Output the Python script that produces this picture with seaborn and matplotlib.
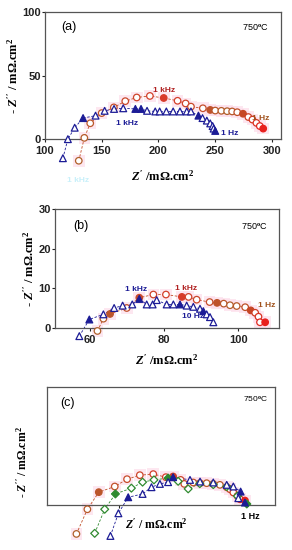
import pandas as pd
import numpy as np
import seaborn as sns
import matplotlib.pyplot as plt
from matplotlib.colors import LinearSegmentedColormap, to_hex

# ---- panel (a) data ----
a_tri_x = [115.8, 120.2, 126.2, 133.6, 144.6, 152.6, 160.9, 169.0, 179.7, 184.7, 190.0, 197.2,
           201.1, 207.0, 213.0, 219.0, 225.0, 228.7, 235.3, 238.9, 242.7, 245.7, 247.8, 248.7, 250.1]
a_tri_y = [-15.0, 0.0, 9.0, 16.6, 18.5, 22.3, 23.8, 24.3, 23.8, 23.8, 22.3, 21.8,
           21.8, 21.8, 21.8, 21.8, 21.8, 21.8, 18.5, 16.6, 14.6, 12.4, 10.3, 8.3, 6.5]
a_tri_filled = [3, 8, 9, 18, 24]

a_cir_x = [129.8, 134.7, 139.9, 150.0, 160.7, 170.8, 180.9, 192.5, 204.7, 216.9, 224.0, 228.7,
           239.2, 245.7, 250.1, 255.5, 260.6, 265.0, 269.5, 274.6, 279.3, 282.9, 286.4, 289.4, 292.4]
a_cir_y = [-17.0, 1.0, 12.5, 20.5, 25.0, 29.9, 32.8, 34.0, 32.4, 30.2, 28.1, 25.6,
           24.3, 23.0, 22.5, 22.3, 22.0, 21.8, 21.2, 20.0, 17.4, 15.4, 12.8, 10.3, 8.3]
a_cir_filled = [8, 13, 19, 24]

# ---- panel (b) data ----
b_tri_x = [57.1, 59.8, 63.6, 66.5, 68.8, 71.4, 73.3, 75.3, 76.9, 78.0, 80.7, 82.5, 84.3,
           86.1, 87.9, 89.7, 90.6, 91.5, 92.4, 93.3]
b_tri_y = [-2.1, 2.1, 3.4, 5.0, 5.6, 5.9, 7.3, 5.9, 5.9, 7.0, 5.9, 5.9, 5.9,
           5.6, 5.3, 4.8, 4.2, 3.4, 2.7, 1.4]
b_tri_filled = [1, 6, 12, 16]

b_cir_x = [62.0, 63.6, 65.4, 69.9, 73.3, 77.1, 80.5, 84.8, 86.6, 88.8, 92.3, 94.3, 96.1,
           97.8, 99.6, 101.9, 103.4, 104.6, 105.5, 105.9, 107.3]
b_cir_y = [-0.8, 2.3, 3.5, 5.0, 7.6, 8.4, 8.4, 7.8, 7.8, 7.1, 6.5, 6.3, 6.1,
           5.7, 5.5, 5.2, 4.4, 3.8, 2.8, 1.4, 1.4]
b_cir_filled = [2, 4, 7, 11, 16, 20]

# ---- panel (c) data (arbitrary units, no scale shown) ----
c_cir_x = [12.9, 17.7, 22.7, 29.7, 35.1, 40.7, 46.6, 52.1, 55.3, 58.6, 60.2, 64.1, 67.1,
           70.0, 72.9, 75.8, 78.8, 80.2, 81.7, 83.5, 84.6, 86.8]
c_cir_y = [-24.6, -3.7, 10.8, 15.6, 21.8, 25.2, 26.1, 23.5, 24.1, 21.2, 17.8, 19.0, 18.4,
           18.4, 17.8, 17.0, 15.0, 13.3, 10.5, 7.6, 4.8, 3.7]
c_cir_filled = [2, 8, 21]

c_dia_x = [20.9, 25.3, 30.0, 37.0, 41.9, 46.9, 53.1, 57.5, 61.9, 67.0, 72.9, 78.8, 83.5, 87.6]
c_dia_y = [-24.1, -3.7, 9.3, 14.2, 19.3, 21.2, 22.7, 20.0, 13.6, 18.0, 17.2, 15.5, 7.5, 0.8]
c_dia_filled = [2, 6, 13]

c_tri_x = [27.8, 31.3, 35.6, 41.9, 45.8, 49.5, 53.1, 55.3, 62.7, 67.1, 72.9, 78.8, 81.7,
           84.9, 83.9, 86.8]
c_tri_y = [-26.3, -7.1, 6.5, 9.3, 15.0, 17.8, 19.3, 23.5, 21.2, 19.8, 19.0, 17.0, 15.6,
           11.3, 5.7, 2.0]
c_tri_filled = [2, 7, 13, 15]

BLUE = '#1c1c96'
GREEN = '#2f8a2f'
circ_cmap = LinearSegmentedColormap.from_list('brred', ['#b0602a', '#d83a2a', '#b0602a', '#e8201e'])

plt.rcParams['mathtext.fontset'] = 'custom'
plt.rcParams['mathtext.rm'] = 'Liberation Serif:bold'
plt.rcParams['mathtext.it'] = 'Liberation Serif:bold:italic'
plt.rcParams['mathtext.bf'] = 'Liberation Serif:bold'
plt.rcParams['font.family'] = ['Liberation Sans', 'DejaVu Sans']

fig = plt.figure(figsize=(2.92, 5.5), dpi=100)
ax_a = fig.add_axes([0.154, 0.747, 0.808, 0.231])
ax_b = fig.add_axes([0.188, 0.404, 0.767, 0.216])
ax_c = fig.add_axes([0.161, 0.082, 0.781, 0.2145])


def draw_series(ax, xs, ys, filled, marker, colors, ms, halo=False):
    df = pd.DataFrame({'x': xs, 'y': ys})
    if not isinstance(colors, list):
        colors = [colors] * len(xs)
    colors = [to_hex(c) for c in colors]
    sns.lineplot(data=df, x='x', y='y', ax=ax, sort=False, estimator=None,
                 color=colors[len(colors) // 2], lw=0.6, ls=(0, (3, 2)), clip_on=False, zorder=2)
    if halo:
        sns.scatterplot(data=df, x='x', y='y', ax=ax, marker='s', s=70, color='#fde0ec',
                        edgecolor='none', alpha=0.75, clip_on=False, zorder=1, legend=False)
    face = ['#ffffff'] * len(xs)
    for i in filled:
        face[i] = colors[i]
    sns.scatterplot(data=df, x='x', y='y', ax=ax, marker=marker, s=ms, facecolor=face,
                    edgecolor=colors, linewidth=0.9, clip_on=False, zorder=3, legend=False)


def circ_colors(n):
    return [circ_cmap(v) for v in np.linspace(0, 1, n)]


# ---- (a) ----
draw_series(ax_a, a_cir_x, a_cir_y, a_cir_filled, 'o', circ_colors(len(a_cir_x)), 22, halo=True)
draw_series(ax_a, a_tri_x, a_tri_y, a_tri_filled, '^', BLUE, 24)
ax_a.set_xlim(100, 308)
ax_a.set_ylim(0, 100)
ax_a.set_xticks([100, 150, 200, 250, 300])
ax_a.set_yticks([0, 50, 100])
ax_a.text(205, 35.5, '1 kHz', color='#b02020', fontsize=6, fontweight='bold', ha='center', va='bottom')
ax_a.text(172, 12, '1 kHz', color=BLUE, fontsize=6, fontweight='bold', ha='center', va='center')
ax_a.text(255, 4.5, '1 Hz', color=BLUE, fontsize=6, fontweight='bold', ha='left', va='center')
ax_a.text(290, 16.5, '1 Hz', color='#a0521c', fontsize=6, fontweight='bold', ha='center', va='center')
ax_a.text(0.07, 0.88, '(a)', transform=ax_a.transAxes, fontsize=9, ha='left', va='center')
ax_a.text(0.95, 0.88, '750$^{\\rm o}$C', transform=ax_a.transAxes, fontsize=6.5, ha='right', va='center')
ax_a.set_xlabel("$Z'$ /mΩ.cm$^2$", fontsize=9, family='Liberation Serif', fontweight='bold', labelpad=9)
ax_a.set_ylabel("- $Z''$ / mΩ.cm$^2$", fontsize=9, family='Liberation Serif', fontweight='bold', labelpad=1)
fig.text(78 / 292, 1 - 181 / 550, '1 kHz', color='#c8f0fa', fontsize=6, fontweight='bold', ha='center', va='center')

# ---- (b) ----
draw_series(ax_b, b_cir_x, b_cir_y, b_cir_filled, 'o', circ_colors(len(b_cir_x)), 22, halo=True)
draw_series(ax_b, b_tri_x, b_tri_y, b_tri_filled, '^', BLUE, 24)
ax_b.set_xlim(50.5, 111)
ax_b.set_ylim(0, 30)
ax_b.set_xticks([60, 80, 100])
ax_b.set_yticks([0, 10, 20, 30])
ax_b.text(72.4, 9.7, '1 kHz', color=BLUE, fontsize=6, fontweight='bold', ha='center', va='center')
ax_b.text(86, 9.8, '1 kHz', color='#b02020', fontsize=6, fontweight='bold', ha='center', va='center')
ax_b.text(87.7, 2.9, '10 Hz', color=BLUE, fontsize=6, fontweight='bold', ha='center', va='center')
ax_b.text(107.6, 5.6, '1 Hz', color='#a0521c', fontsize=6, fontweight='bold', ha='center', va='center')
ax_b.text(0.08, 0.86, '(b)', transform=ax_b.transAxes, fontsize=9, ha='left', va='center')
ax_b.text(0.95, 0.86, '750$^{\\rm o}$C', transform=ax_b.transAxes, fontsize=6.5, ha='right', va='center')
ax_b.set_xlabel("$Z'$ /mΩ.cm$^2$", fontsize=9, family='Liberation Serif', fontweight='bold', labelpad=6)
ax_b.set_ylabel("- $Z''$ / mΩ.cm$^2$", fontsize=9, family='Liberation Serif', fontweight='bold', labelpad=1)

# ---- (c) ----
draw_series(ax_c, c_cir_x, c_cir_y, c_cir_filled, 'o', circ_colors(len(c_cir_x)), 22, halo=True)
draw_series(ax_c, c_dia_x, c_dia_y, c_dia_filled, 'D', GREEN, 16)
draw_series(ax_c, c_tri_x, c_tri_y, c_tri_filled, '^', BLUE, 24)
ax_c.set_xlim(0, 100)
ax_c.set_ylim(0, 100)
ax_c.set_xticks([31.4])
ax_c.set_xticklabels([''])
ax_c.set_yticks([])
ax_c.text(0.06, 0.86, '(c)', transform=ax_c.transAxes, fontsize=9, ha='left', va='center')
ax_c.text(0.97, 0.9, '750$^{\\rm o}$C', transform=ax_c.transAxes, fontsize=6, ha='right', va='center')
ax_c.text(89, -10, '1 Hz', fontsize=6.5, fontweight='bold', ha='center', va='center')
ax_c.set_xlabel("$Z'$ / mΩ.cm$^2$", fontsize=8.5, family='Liberation Serif', fontweight='bold')
ax_c.xaxis.set_label_coords(0.48, -0.1)
ax_c.set_ylabel("- $Z''$ / mΩ.cm$^2$", fontsize=8.5, family='Liberation Serif', fontweight='bold')
ax_c.yaxis.set_label_coords(-0.075, 0.36)

for ax in (ax_a, ax_b, ax_c):
    for sp in ax.spines.values():
        sp.set_color('#555555')
        sp.set_linewidth(0.9)
    ax.tick_params(direction='out', length=2, width=0.8, pad=1, labelsize=8, colors='#222222')
    ax.tick_params(axis='x', pad=3)
    for lab in ax.get_xticklabels() + ax.get_yticklabels():
        lab.set_fontweight('bold')
    ax.set_facecolor('white')

fig.savefig('out.png', dpi=100)
